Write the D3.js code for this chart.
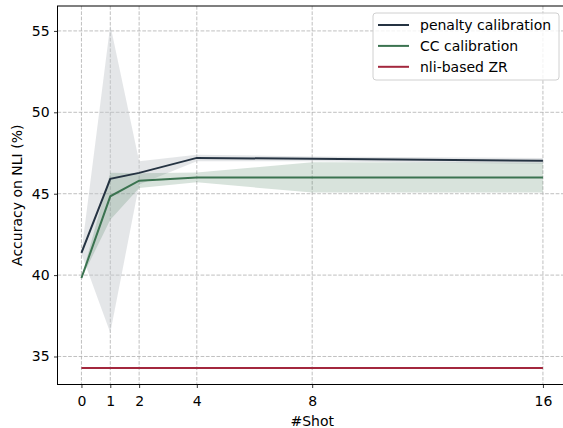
<!DOCTYPE html>
<html><head><meta charset="utf-8">
<script src="https://cdn.jsdelivr.net/npm/d3@7"></script>
<style>body{margin:0;background:#fff;} svg{display:block;font-family:"DejaVu Sans",sans-serif;}</style>
</head><body>
<svg id="c" width="563" height="428"></svg>
<script>
const shots = [0, 1, 2, 4, 8, 16];
const penaltyMean = [41.36, 45.91, 46.28, 47.2, 47.14, 47.02];
const penaltyStd  = [0.05, 9.45, 0.72, 0.2, 0.15, 0.18];
const ccMean = [39.82, 44.84, 45.8, 46.0, 46.0, 46.0];
const ccStd  = [0.03, 1.44, 0.45, 0.3, 0.93, 0.92];
const zrMean = [34.3, 34.3, 34.3, 34.3, 34.3, 34.3];
const zrStd  = [0.06, 0.06, 0.06, 0.06, 0.06, 0.06];
const yTicks = [35, 40, 45, 50, 55];
const xTicks = [0, 1, 2, 4, 8, 16];
const seriesNames = ["penalty calibration", "CC calibration", "nli-based ZR"];
const colors = ["#253342", "#3b7350", "#a3273d"];
const bandColors = ["#c4c8cc", "#3b7350", "#a3273d"];
const bandOpacity = [0.45, 0.2, 0.2];

const FS = 14;
const svg = d3.select("#c");
const L = 57.5, T = 6, R = 566, B = 384.5;
const x = d3.scaleLinear().domain([-0.83, 16.8]).range([L, R]);
const y = d3.scaleLinear().domain([33.28, 56.53]).range([B, T]);

// grid
const grid = svg.append("g").attr("stroke", "#b0b0b0").attr("stroke-width", 0.8).attr("stroke-dasharray", "3.7,1.6");
xTicks.forEach(t => grid.append("line").attr("x1", x(t)).attr("x2", x(t)).attr("y1", T).attr("y2", B));
yTicks.forEach(t => grid.append("line").attr("x1", L).attr("x2", R).attr("y1", y(t)).attr("y2", y(t)));

const series = [
  {m: penaltyMean, s: penaltyStd},
  {m: ccMean, s: ccStd},
  {m: zrMean, s: zrStd}
];
const area = d3.area().x(d => x(d.x)).y0(d => y(d.m - d.s)).y1(d => y(d.m + d.s));
const line = d3.line().x(d => x(d.x)).y(d => y(d.m));
series.forEach((sr, i) => {
  const data = shots.map((v, k) => ({x: v, m: sr.m[k], s: sr.s[k]}));
  svg.append("path").datum(data).attr("d", area).attr("fill", bandColors[i]).attr("fill-opacity", bandOpacity[i]).attr("stroke", "none");
});
series.forEach((sr, i) => {
  const data = shots.map((v, k) => ({x: v, m: sr.m[k], s: sr.s[k]}));
  svg.append("path").datum(data).attr("d", line).attr("fill", "none").attr("stroke", colors[i]).attr("stroke-width", 2);
});

// axes
const xa = svg.append("g").attr("transform", `translate(0,${B})`)
  .call(d3.axisBottom(x).tickValues(xTicks).tickFormat(d3.format("d")).tickSizeOuter(0).tickSize(3.5));
const ya = svg.append("g").attr("transform", `translate(${L},0)`)
  .call(d3.axisLeft(y).tickValues(yTicks).tickFormat(d3.format("d")).tickSizeOuter(0).tickSize(3.5));
[xa, ya].forEach(a => {
  a.select(".domain").remove();
  a.selectAll("line").attr("stroke", "#000").attr("stroke-width", 0.8);
  a.selectAll("text").attr("font-size", FS).attr("fill", "#000").attr("font-family", "DejaVu Sans");
});
xa.selectAll("text").attr("dy", "1.08em");
ya.selectAll("text").attr("dx", "-0.1em");
// spines
svg.append("rect").attr("x", L).attr("y", T).attr("width", R - L).attr("height", B - T)
  .attr("fill", "none").attr("stroke", "#000").attr("stroke-width", 1);

svg.append("text").attr("x", x(8)).attr("y", 426).attr("text-anchor", "middle")
  .attr("font-size", FS).text("#Shot");
svg.append("text").attr("transform", `translate(22,${(T + B) / 2}) rotate(-90)`).attr("text-anchor", "middle")
  .attr("font-size", FS).text("Accuracy on NLI (%)");

// legend
const lg = svg.append("g");
lg.append("rect").attr("x", 373).attr("y", 13).attr("width", 186).attr("height", 67).attr("rx", 3)
  .attr("fill", "#fff").attr("fill-opacity", 0.8).attr("stroke", "#d0d0d0").attr("stroke-width", 1);
seriesNames.forEach((n, i) => {
  const yy = 25 + i * 20.9;
  lg.append("line").attr("x1", 378).attr("x2", 409).attr("y1", yy).attr("y2", yy).attr("stroke", colors[i]).attr("stroke-width", 2);
  lg.append("text").attr("x", 420).attr("y", yy).attr("dy", "0.36em").attr("font-size", FS).text(n);
});
</script>
</body></html>
